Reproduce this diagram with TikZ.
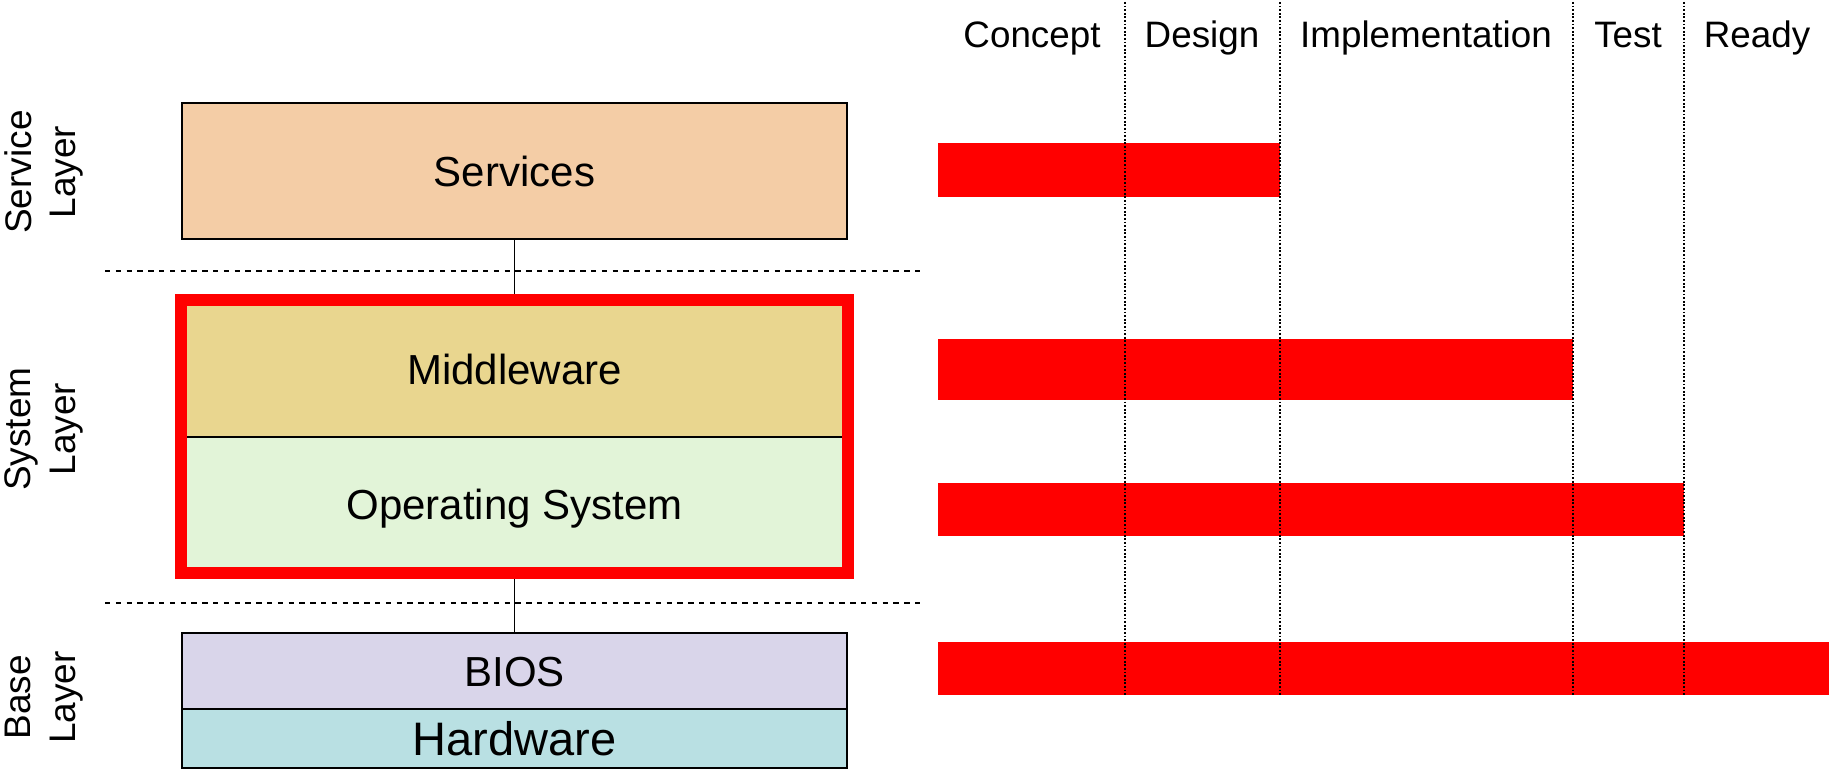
\documentclass[tikz,border=0pt]{standalone}
\usepackage{fontspec}
\setmainfont{Liberation Sans}
\usetikzlibrary{fit}
\definecolor{svcfill}{RGB}{244,205,166}
\definecolor{midfill}{RGB}{233,214,143}
\definecolor{osfill}{RGB}{226,244,216}
\definecolor{biosfill}{RGB}{217,213,234}
\definecolor{hwfill}{RGB}{185,224,227}
\definecolor{barred}{RGB}{255,0,0}
\begin{document}
\begin{tikzpicture}[x=0.5pt,y=-0.5pt,
  layerbox/.style={draw=black, line width=0.9pt, minimum width=332.5pt, inner sep=0pt,
    text height=15.04pt, text depth=0pt, font=\fontsize{21}{25}\selectfont},
  layerlabel/.style={rotate=90, align=center, inner sep=0pt, font=\fontsize{18.5}{22.25}\selectfont},
  phase/.style={anchor=base, inner sep=0pt, font=\fontsize{18.4}{22}\selectfont},
  sepline/.style={dash pattern=on 2.7pt off 2.7pt, line width=1pt},
  phaseline/.style={dash pattern=on 0.9pt off 0.9pt, line width=1pt},
  link/.style={line width=0.7pt},
  bar/.style={fill=barred}]
\useasboundingbox (0,0) rectangle (1829,770);

% left stack
\node[layerbox, fill=svcfill, minimum height=68pt] (services) at (514.5,171) {Services};
\node[layerbox, fill=midfill, minimum height=68pt] (middleware) at (514.5,369) {Middleware};
\node[layerbox, fill=osfill, minimum height=67.5pt] (os) at (514.5,504.5) {Operating System};
\node[layerbox, fill=biosfill, minimum height=38pt] (bios) at (514.5,671) {BIOS};
\node[layerbox, fill=hwfill, minimum height=29.5pt, text height=16.83pt, font=\fontsize{23.5}{28}\selectfont] (hardware) at (514.5,738.5) {Hardware};
\node[fit=(middleware)(os), inner sep=0pt, draw=barred, line width=5.85pt] (frame) {};

\draw[link] (services.south) -- (frame.north);
\draw[link] (frame.south) -- (bios.north);

% layer separators
\draw[sepline] (105,271) -- (925,271);
\draw[sepline] (105,603) -- (925,603);

% layer labels
\node[layerlabel] (lsvc) at (44,172) {Service\\Layer};
\node[layerlabel] (lsys) at (44,429) {System\\Layer};
\node[layerlabel] (lbase) at (44,697.5) {Base\\Layer};

% phase headers
\node[phase] (concept) at (1032,48) {Concept};
\node[phase] (design) at (1202,48) {Design};
\node[phase] (impl) at (1426,48) {Implementation};
\node[phase] (test) at (1628,48) {Test};
\node[phase] (ready) at (1757,48) {Ready};

% progress bars
\fill[bar] (938,143) rectangle (1280,197);
\fill[bar] (938,339) rectangle (1573,400);
\fill[bar] (938,483) rectangle (1684,536);
\fill[bar] (938,642) rectangle (1829,695);

% phase boundaries
\draw[phaseline] (1125,2) -- (1125,695);
\draw[phaseline] (1280,2) -- (1280,695);
\draw[phaseline] (1573,2) -- (1573,695);
\draw[phaseline] (1684,2) -- (1684,695);
\end{tikzpicture}
\end{document}
